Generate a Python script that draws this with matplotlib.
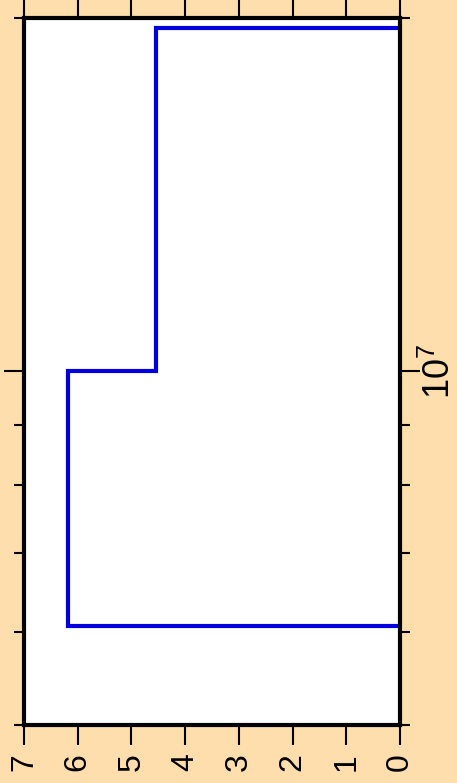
import matplotlib
matplotlib.use('Agg')
from matplotlib import pyplot as plt
from matplotlib.ticker import LogLocator, NullFormatter, FixedLocator

# step outline (frequency edges vs. level), chart is drawn turned on its side
edges = [6.07e6, 1.0e7, 1.96e7]
levels = [6.18, 4.55]
level_ticks = [0, 1, 2, 3, 4, 5, 6, 7]
freq_ticks = [1e7]
freq_labels = [r'$\mathdefault{10^{7}}$']
freq_min = 5e6
freq_max = 2e7

bg = '#ffdead'
line_blue = '#0000dd'

plt.rcParams['font.family'] = ['Liberation Sans', 'DejaVu Sans']


def step_outline(edges, levels):
    xs = [0.0]
    ys = [edges[0]]
    for i, v in enumerate(levels):
        xs += [v, v]
        ys += [edges[i], edges[i + 1]]
    xs.append(0.0)
    ys.append(edges[-1])
    return xs, ys


def main():
    fig = plt.figure(figsize=(4.57, 7.83), dpi=100, facecolor=bg)
    ax = fig.add_axes([24 / 457, 1 - 725 / 783, 376 / 457, 707 / 783])
    ax.set_facecolor('white')

    xs, ys = step_outline(edges, levels)
    ax.plot(xs, ys, color=line_blue, linewidth=3.0, solid_joinstyle='miter')

    ax.set_yscale('log')
    ax.set_ylim(freq_min, freq_max)
    ax.set_xlim(7, 0)

    ax.xaxis.set_major_locator(FixedLocator(level_ticks))
    ax.set_xticklabels([str(t) for t in level_ticks])
    ax.yaxis.set_major_locator(FixedLocator(freq_ticks))
    ax.set_yticklabels(freq_labels)
    ax.yaxis.set_minor_locator(LogLocator(base=10, subs=range(2, 10)))
    ax.yaxis.set_minor_formatter(NullFormatter())

    ax.tick_params(axis='x', which='major', direction='out', length=14.4, width=1.5,
                   top=True, bottom=True, labeltop=False, labelbottom=True, pad=6,
                   labelsize=23, labelrotation=90)
    ax.tick_params(axis='y', which='major', direction='out', length=14.4, width=1.5,
                   left=True, right=True, labelleft=False, labelright=True, pad=1.5,
                   labelsize=26, labelrotation=90)
    ax.tick_params(axis='y', which='minor', direction='out', length=7.2, width=1.5,
                   left=True, right=True)
    for lbl in ax.get_yticklabels():
        lbl.set_va('center')

    for s in ax.spines.values():
        s.set_linewidth(3)

    plt.savefig('out.png', dpi=100, facecolor=bg)


if __name__ == '__main__':
    main()
